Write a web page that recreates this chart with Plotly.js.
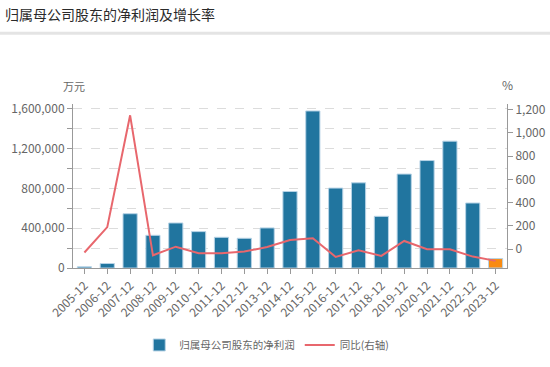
<!DOCTYPE html>
<html>
<head>
<meta charset="utf-8">
<script src="https://cdn.plot.ly/plotly-3.0.1.min.js"></script>
<style>html,body{margin:0;padding:0;background:#fff;}#chart{width:550px;height:367px;}</style>
</head>
<body>
<div id="chart"></div>
<script>
const years = ["2005-12","2006-12","2007-12","2008-12","2009-12","2010-12","2011-12","2012-12","2013-12","2014-12","2015-12","2016-12","2017-12","2018-12","2019-12","2020-12","2021-12","2022-12","2023-12"];
const netProfit = [12000,45000,546000,329000,453000,366000,309000,299000,403000,770000,1580000,804000,857000,520000,945000,1081000,1276000,654000,95000];
const growth = [-28,190,1150,-52,22,-34,-34,-20,19,80,94,-66,-9,-57,71,0,0,-63,-100];
const seriesNames = ["归属母公司股东的净利润","同比(右轴)"];
const highlightYear = "2023-12";

const blue = "#21759f";
const orange = "#f98b12";
const red = "#e8676d";
const font = "Liberation Sans Narrow, Noto Sans CJK SC, sans-serif";
const cjk = "Noto Sans CJK SC, sans-serif";
const gray = "#666";

const barColors = years.map(y => y === highlightYear ? orange : blue);

const traces = [
  {type:"bar", x:years, y:netProfit, name:seriesNames[0], yaxis:"y",
   marker:{color:barColors, line:{color:"#b7d3e6", width:1}}, hoverinfo:"x+y"},
  {type:"scatter", mode:"lines", x:years, y:growth, name:seriesNames[1], yaxis:"y2",
   line:{color:red, width:2}}
];

const layout = {
  width:550, height:367,
  margin:{l:73, r:43, t:104, b:99},
  paper_bgcolor:"#fff", plot_bgcolor:"#fff",
  bargap:0.38,
  showlegend:true,
  title:{text:"归属母公司股东的净利润及增长率", x:0.009, xref:"container", xanchor:"left",
         y:0.958, yref:"container", yanchor:"middle",
         font:{family:cjk, size:14, color:"#2a2a2a"}},
  xaxis:{type:"category", showline:true, linecolor:"#999", linewidth:1, automargin:false,
         ticks:"outside", ticklen:5, tickcolor:"#999", tickangle:-45,
         tickfont:{family:font, size:12, color:gray}, showgrid:false, zeroline:false},
  yaxis:{range:[0,1650000], tickformat:",", dtick:400000, tick0:0, automargin:false,
         showline:true, linecolor:"#999", linewidth:1,
         ticks:"outside", ticklen:5, tickcolor:"#999",
         tickfont:{family:font, size:12, color:gray},
         showgrid:true, gridcolor:"#dcdcdc", griddash:"dash", gridwidth:1, zeroline:false,
         minor:{dtick:200000, tick0:0, ticks:"outside", ticklen:5, tickcolor:"#999",
                showgrid:true, gridcolor:"#dcdcdc", griddash:"dash", gridwidth:1}},
  yaxis2:{overlaying:"y", side:"right", range:[-161,1247], tickformat:",", dtick:200, tick0:0,
          automargin:false, showline:true, linecolor:"#999", linewidth:1,
          ticks:"outside", ticklen:5, tickcolor:"#999",
          tickfont:{family:font, size:12, color:gray},
          showgrid:false, zeroline:false},
  legend:{orientation:"h", x:0.485, xref:"container", xanchor:"center", y:0.06, yref:"container", yanchor:"middle",
          font:{family:cjk, size:10.5, color:gray}, itemwidth:30, traceorder:"normal"},
  shapes:[{type:"line", xref:"paper", yref:"paper", x0:-0.17, x1:1.1, y0:1.432, y1:1.432,
           line:{color:"#e4e4e4", width:3}}],
  annotations:[
    {text:"万元", xref:"paper", yref:"paper", x:0.002, y:1.11, xanchor:"center", yanchor:"middle",
     showarrow:false, font:{family:cjk, size:11, color:gray}},
    {text:"%", xref:"paper", yref:"paper", x:1.002, y:1.12, xanchor:"center", yanchor:"middle",
     showarrow:false, font:{family:font, size:12, color:gray}}
  ]
};

Plotly.newPlot("chart", traces, layout, {displayModeBar:false, staticPlot:true});
</script>
</body>
</html>
